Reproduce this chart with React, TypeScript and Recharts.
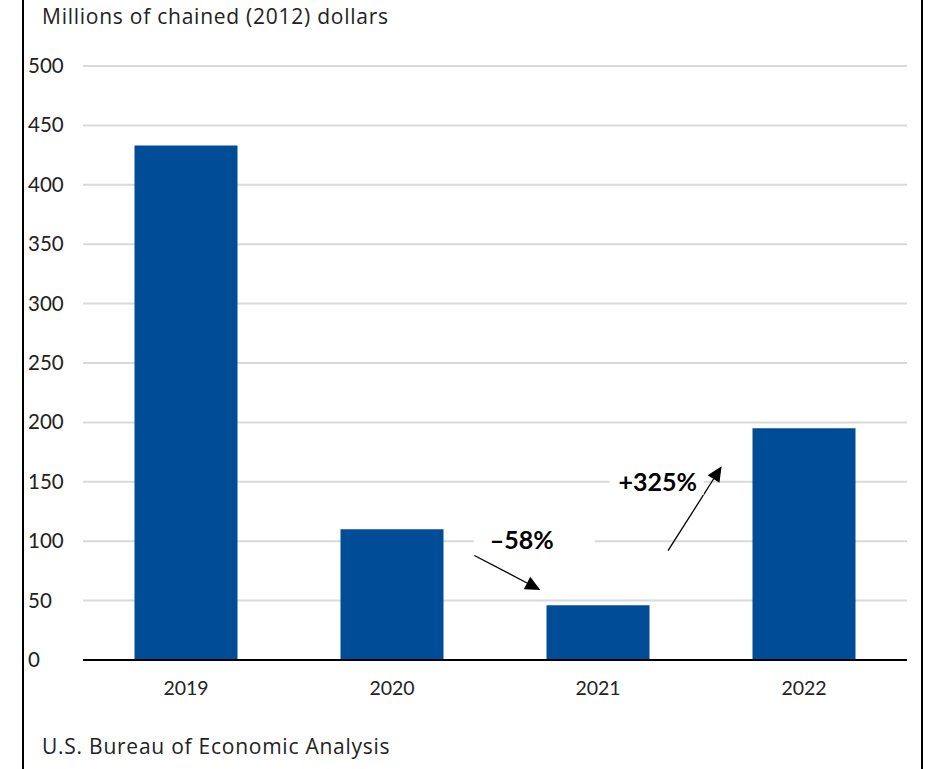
import { BarChart, Bar, XAxis, YAxis, CartesianGrid, ReferenceLine, ReferenceDot } from 'recharts'

const years = ['2019', '2020', '2021', '2022']
const values = [433, 110, 46, 195]
const yTicks = [0, 50, 100, 150, 200, 250, 300, 350, 400, 450, 500]

// change labels, positioned on a hidden numeric x axis (category index) and the value axis
const changeLabels = ['\u201358%', '+325%']
const labelX = [1.63, 2.29]
const labelY = [101, 150]
const arrowFromX = [1.4, 2.34]
const arrowFromY = [88, 92]
const arrowToX = [1.72, 2.6]
const arrowToY = [59, 163]

const chartData = years.map((year, i) => ({ year, value: values[i], idx: i }))

const FONT = 'Lato, "Open Sans", sans-serif'
const TEXT_FONT = '"Open Sans", Lato, sans-serif'
const BAR_COLOR = '#004C97'
// how far the white box behind each label reaches right of the text centre
const maskRight = [73, 46]

const Arrow = (props: any) => {
  const { x1, y1, x2, y2 } = props
  const dx = x2 - x1
  const dy = y2 - y1
  const len = Math.sqrt(dx * dx + dy * dy)
  const ux = dx / len
  const uy = dy / len
  const head = 15
  const half = 7
  const bx = x2 - ux * head
  const by = y2 - uy * head
  return (
    <g>
      <line x1={x1} y1={y1} x2={bx} y2={by} stroke="#000" strokeWidth={1.3} />
      <polygon
        points={`${x2},${y2} ${bx - uy * half},${by + ux * half} ${bx + uy * half},${by - ux * half}`}
        fill="#000"
      />
    </g>
  )
}

const makeLabel = (text: string, right: number) => (props: any) => {
  const { cx, cy } = props
  return (
    <g>
      <rect x={cx - 48} y={cy - 13} width={48 + right} height={26} fill="#fff" />
      <text x={cx} y={cy} dy={9} textAnchor="middle" fontFamily={FONT} fontWeight={700} fontSize={25} fill="#000">
        {text}
      </text>
    </g>
  )
}

const YTick = (props: any) => {
  const { y, payload } = props
  return (
    <text x={28} y={y} dy={7} textAnchor="start" fontFamily={FONT} fontSize={20.5} fill="#222">
      {payload.value}
    </text>
  )
}

const XTick = (props: any) => {
  const { x, y, payload } = props
  return (
    <text x={x} y={y} dy={27} textAnchor="middle" fontFamily={FONT} fontSize={19.5} fill="#222">
      {payload.value}
    </text>
  )
}

const textStyle = {
  position: 'absolute' as const,
  left: 42,
  fontFamily: TEXT_FONT,
  fontSize: 21,
  letterSpacing: 0.75,
  color: '#222',
  whiteSpace: 'nowrap' as const,
}

export default function App() {
  return (
    <div style={{ position: 'absolute', left: 0, top: 0, width: 932, height: 769, background: '#fff', overflow: 'hidden' }}>
      <div style={{ position: 'absolute', left: 22, top: 0, width: 2, height: 769, background: '#000' }} />
      <div style={{ position: 'absolute', left: 921, top: 0, width: 2, height: 769, background: '#000' }} />
      <div style={{ ...textStyle, top: 2 }}>Millions of chained (2012) dollars</div>
      <div style={{ ...textStyle, top: 732 }}>U.S. Bureau of Economic Analysis</div>
      <BarChart
        width={932}
        height={769}
        data={chartData}
        margin={{ top: 66, right: 25, left: 23, bottom: 69 }}
        barCategoryGap="25%"
        style={{ position: 'absolute', left: 0, top: 0 }}
      >
        <CartesianGrid vertical={false} stroke="#d9d9d9" strokeWidth={2} />
        <XAxis
          xAxisId="cat"
          dataKey="year"
          axisLine={{ stroke: '#000', strokeWidth: 2 }}
          tickLine={false}
          tick={<XTick />}
          height={40}
        />
        <XAxis xAxisId="num" dataKey="idx" type="number" domain={[-0.5, 3.5]} allowDataOverflow hide />
        <YAxis
          domain={[0, 500]}
          ticks={yTicks}
          axisLine={false}
          tickLine={false}
          tick={<YTick />}
          width={60}
          interval={0}
        />
        <Bar xAxisId="cat" dataKey="value" fill={BAR_COLOR} isAnimationActive={false} />
        {changeLabels.map((text, i) => (
          <ReferenceDot
            key={`label-${i}`}
            xAxisId="num"
            x={labelX[i]}
            y={labelY[i]}
            r={0}
            shape={makeLabel(text, maskRight[i])}
          />
        ))}
        {changeLabels.map((text, i) => (
          <ReferenceLine
            key={`arrow-${i}`}
            xAxisId="num"
            segment={[
              { x: arrowFromX[i], y: arrowFromY[i] },
              { x: arrowToX[i], y: arrowToY[i] },
            ]}
            shape={Arrow}
          />
        ))}
      </BarChart>
    </div>
  )
}
